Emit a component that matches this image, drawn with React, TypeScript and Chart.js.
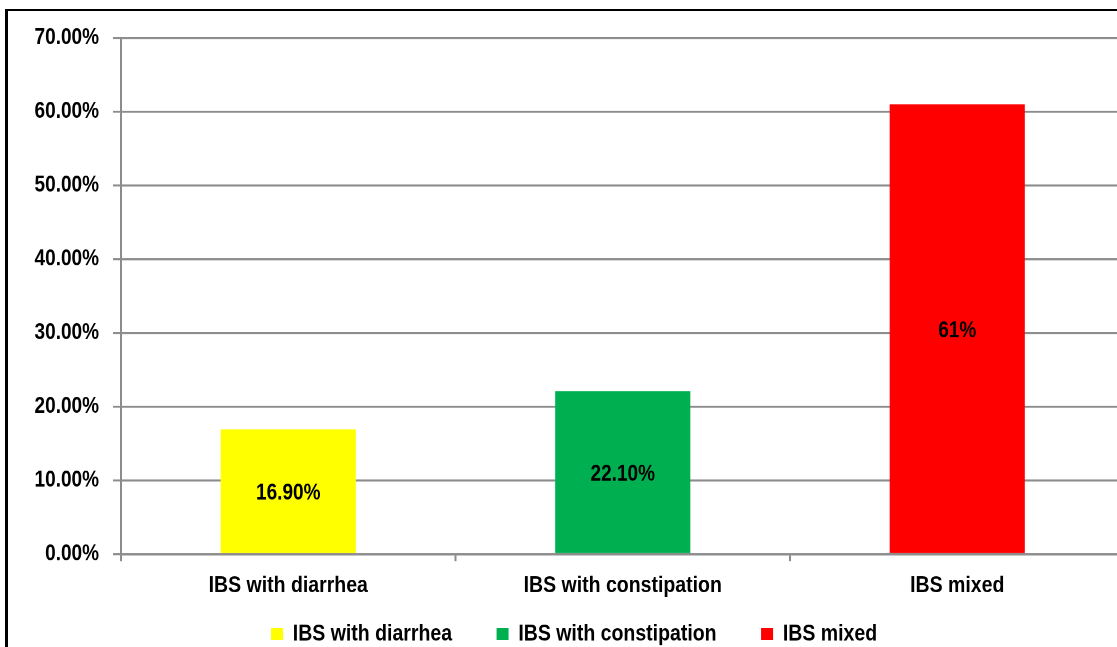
import React, { useEffect, useRef } from "react";
import { Chart, registerables } from "chart.js";

Chart.register(...registerables);

const categories = ["IBS with diarrhea", "IBS with constipation", "IBS mixed"];
const values = [16.9, 22.1, 61];
const valueLabels = ["16.90%", "22.10%", "61%"];
const barColors = ["#ffff00", "#00b050", "#ff0000"];
const yMin = 0;
const yMax = 70;
const yStep = 10;

const FONT = "'Liberation Sans', Arial, sans-serif";
const GRID = "#8c8c8c";
// the original picture is stretched vertically; mimic it with a CSS stretch
const STRETCH = 1.18;
const CANVAS_W = 1130;
const CANVAS_H = 575;
const LEGEND_SHIFT = -26.4;

export default function App() {
  const ref = useRef<HTMLCanvasElement>(null);

  useEffect(() => {
    const canvas = ref.current!;
    const dataLabelPlugin = {
      id: "dataLabels",
      afterDatasetsDraw(chart: any) {
        const ctx = chart.ctx;
        const meta = chart.getDatasetMeta(0);
        ctx.save();
        ctx.font = `bold 19px ${FONT}`;
        ctx.fillStyle = "#000";
        ctx.textAlign = "center";
        ctx.textBaseline = "middle";
        meta.data.forEach((bar: any, i: number) => {
          const p = bar.getProps(["x", "y", "base"], true);
          ctx.fillText(valueLabels[i], p.x, (p.y + p.base) / 2 + 2);
        });
        ctx.restore();
      },
    };
    const legendShift = {
      id: "legendShift",
      afterLayout(chart: any) {
        const l = chart.legend;
        if (l) {
          l.top += LEGEND_SHIFT;
          l.bottom += LEGEND_SHIFT;
        }
      },
    };

    const chart = new Chart(canvas, {
      type: "bar",
      data: {
        labels: categories,
        datasets: [
          {
            label: "IBS",
            data: values,
            backgroundColor: barColors,
            borderWidth: 0,
            barPercentage: 0.404,
            categoryPercentage: 1,
          },
        ],
      },
      options: {
        animation: false,
        responsive: false,
        devicePixelRatio: 2,
        layout: { padding: { left: 15.65, right: 13.5, top: 22.88, bottom: 0.83 } },
        plugins: {
          legend: {
            position: "bottom",
            labels: {
              font: { family: FONT, size: 19.5, weight: "bold" },
              color: "#000",
              boxWidth: 12,
              boxHeight: 10,
              padding: 44.5,
              generateLabels: () =>
                categories.map((c, i) => ({
                  text: c,
                  fillStyle: barColors[i],
                  strokeStyle: barColors[i],
                  lineWidth: 0,
                  hidden: false,
                  index: i,
                  datasetIndex: 0,
                })),
            },
          },
          tooltip: { enabled: false },
        },
        scales: {
          x: {
            grid: {
              drawOnChartArea: false,
              drawTicks: true,
              tickLength: 6,
              color: GRID,
              lineWidth: 2,
              offset: true,
            },
            border: { color: GRID, width: 1.7 },
            ticks: {
              font: { family: FONT, size: 19.5, weight: "bold" },
              color: "#000",
              padding: 9.4,
              maxRotation: 0,
            },
            afterFit: (s: any) => {
              s.height = 40;
            },
          },
          y: {
            min: yMin,
            max: yMax,
            ticks: {
              stepSize: yStep,
              callback: (v: any) => Number(v).toFixed(2) + "%",
              font: { family: FONT, size: 19, weight: "bold", lineHeight: 0.8 },
              color: "#000",
              padding: 14,
            },
            grid: { color: GRID, lineWidth: 1.7, tickLength: 8 },
            border: { color: GRID, width: 2 },
            afterFit: (s: any) => {
              s.width = 97.35;
            },
          },
        },
      },
      plugins: [dataLabelPlugin, legendShift],
    } as any);
    return () => chart.destroy();
  }, []);

  return (
    <div
      style={{
        position: "fixed",
        left: 0,
        top: 0,
        width: 1117,
        height: 647,
        overflow: "hidden",
        background: "#fff",
      }}
    >
      <div
        style={{
          position: "absolute",
          left: 5,
          top: 9,
          width: 2000,
          height: 2000,
          borderLeft: "3px solid #000",
          borderTop: "2px solid #000",
        }}
      />
      <div
        style={{
          position: "absolute",
          left: 8,
          top: 11,
          width: CANVAS_W,
          height: CANVAS_H,
          transform: `scaleY(${STRETCH})`,
          transformOrigin: "0 0",
        }}
      >
        <canvas ref={ref} width={CANVAS_W} height={CANVAS_H} />
      </div>
    </div>
  );
}
